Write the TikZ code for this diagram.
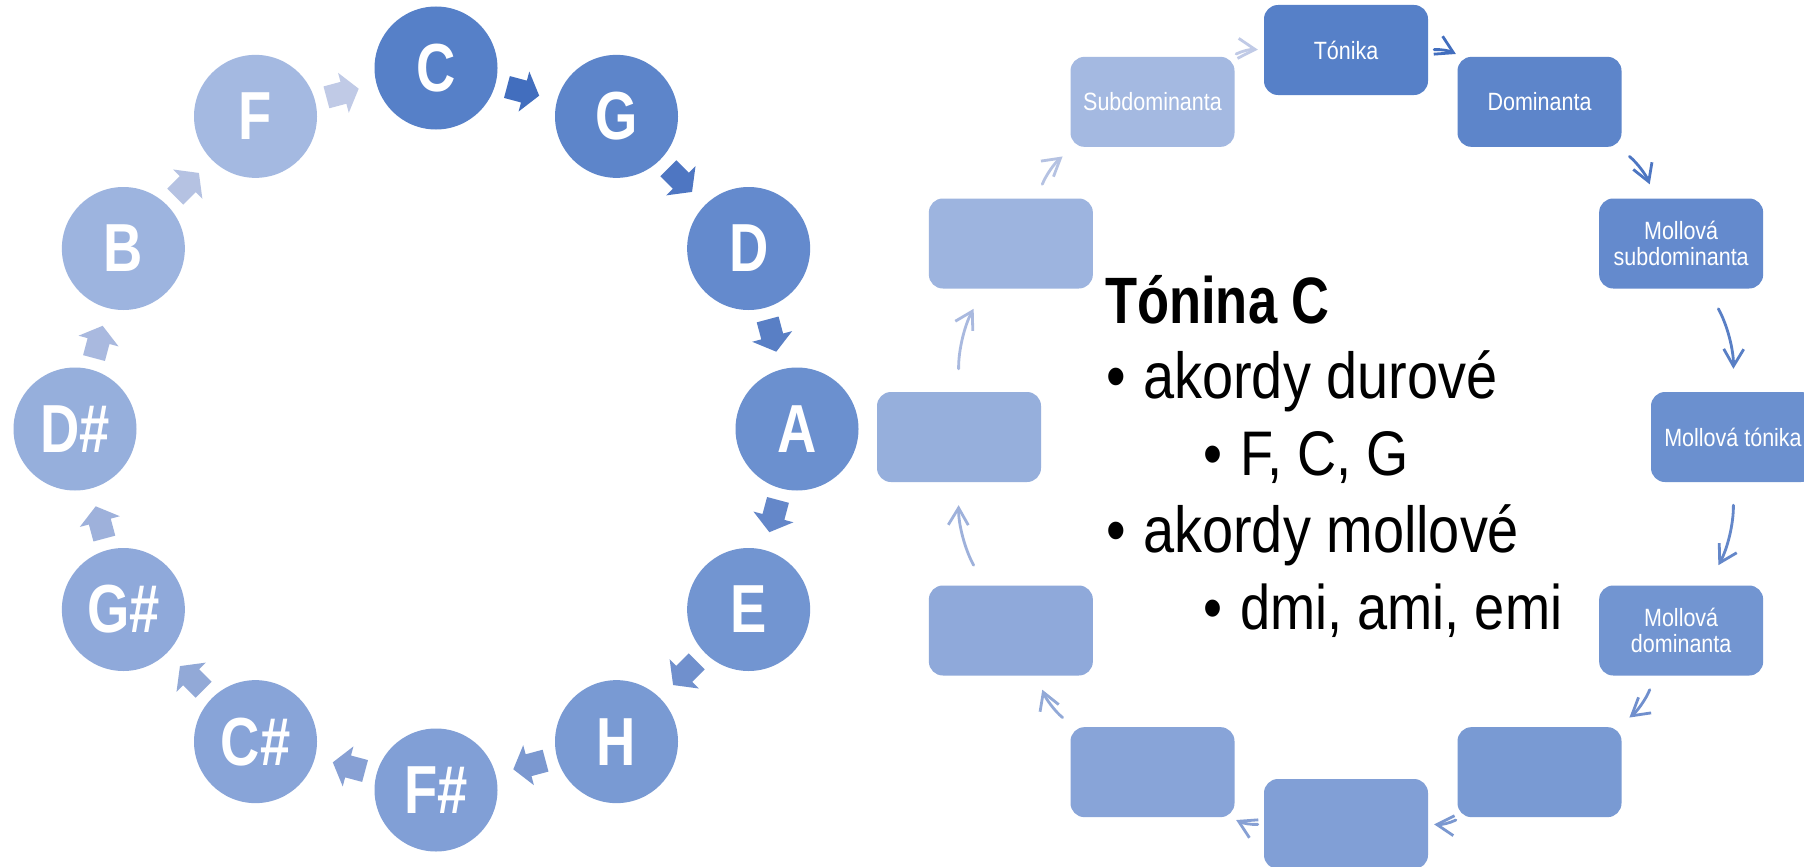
\documentclass[tikz,border=0pt]{standalone}
\usepackage{fontspec}
\setmainfont{Liberation Sans}
\newfontfamily\condreg[FakeStretch=0.86]{Liberation Sans}
\newfontfamily\condbold[FakeStretch=0.8]{Liberation Sans}
\usetikzlibrary{arrows.meta,calc}
\definecolor{nodeA}{RGB}{86,128,200}
\definecolor{nodeB}{RGB}{164,185,225}
\definecolor{arrA}{RGB}{66,110,190}
\definecolor{arrB}{RGB}{192,202,230}
\begin{document}
\begin{tikzpicture}[x=1pt,y=1pt,
  keycircle/.style={circle, minimum size=123pt, inner sep=0pt, text=white,
    font=\condbold\bfseries\fontsize{68}{68}\selectfont},
  chordbox/.style={rectangle, rounded corners=14pt, minimum width=164pt, minimum height=90pt,
    inner sep=0pt, text=white, align=center, font=\condreg\fontsize{25}{26}\selectfont},
  cyclearrow/.style={line width=2.8pt, -{Straight Barb[length=17pt,width=20pt]},
    line cap=round, line join=round},
  bodytext/.style={anchor=base west, inner sep=0pt, font=\condreg\fontsize{65}{65}\selectfont},
  subtext/.style={anchor=base west, inner sep=0pt, font=\condreg\fontsize{63}{63}\selectfont},
  titletext/.style={anchor=base west, inner sep=0pt, font=\condbold\bfseries\fontsize{65.6}{66}\selectfont},
]
\useasboundingbox (0,0) rectangle (1804,-867);
\clip (0,0) rectangle (1804,-867);
\fill[white] (0,0) rectangle (1804,-867);

% circle of fifths
\foreach \i/\t in {0/C,1/G,2/D,3/A,4/E,5/H,6/F\#,7/C\#,8/G\#,9/D\#,10/B,11/F}{
  \pgfmathsetmacro\pc{100-\i*100/11}
  \node[keycircle, fill=nodeA!\pc!nodeB] (n\i) at ($(436,-429)+(90-30*\i:361)$) {\t};
}
\foreach \i in {0,...,11}{
  \pgfmathtruncatemacro\j{mod(\i+1,12)}
  \pgfmathsetmacro\pc{100-\i*100/11}
  \fill[arrA!\pc!arrB, shift={($(n\i)!0.5!(n\j)$)}, rotate=-(30*\i+15)]
    (-20,-11.3) -- (-2.4,-11.3) -- (-2.4,-20.7) -- (13.4,0) -- (-2.4,20.7) -- (-2.4,11.3) -- (-20,11.3) -- cycle;
}

% chord cycle
\foreach \k/\lab in {0/Tónika,1/Dominanta,2/{Mollová\\subdominanta},3/Mollová tónika,4/{Mollová\\dominanta},5/,6/,7/,8/,9/,10/,11/Subdominanta}{
  \pgfmathsetmacro\pc{100-\k*100/11}
  \node[chordbox, fill=nodeA!\pc!nodeB] (r\k) at ($(1346,-437)+(90-30*\k:387)$) {\lab};
}
\foreach \k/\sh in {0/6,1/15,2/23,3/23,4/15,5/6,6/6,7/15,8/23,9/23,10/15,11/6}{
  \pgfmathtruncatemacro\j{mod(\k+1,12)}
  \pgfmathsetmacro\pc{100-\k*100/11}
  \draw[cyclearrow, draw=arrA!\pc!arrB, shorten <=\sh pt, shorten >=\sh pt] (r\k) to[bend left=15] (r\j);
}

% text block
\node[titletext] (title) at (1105,-323) {Tónina C};
\node[bodytext] (b1) at (1106,-398) {•};
\node[bodytext] (t1) at (1143,-398) {akordy durové};
\node[subtext] (b2) at (1203,-475) {•};
\node[subtext] (t2) at (1240,-475) {F, C, G};
\node[bodytext] (b3) at (1106,-552) {•};
\node[bodytext] (t3) at (1143,-552) {akordy mollové};
\node[subtext] (b4) at (1203,-629) {•};
\node[subtext] (t4) at (1240,-629) {dmi, ami, emi};
\end{tikzpicture}
\end{document}
